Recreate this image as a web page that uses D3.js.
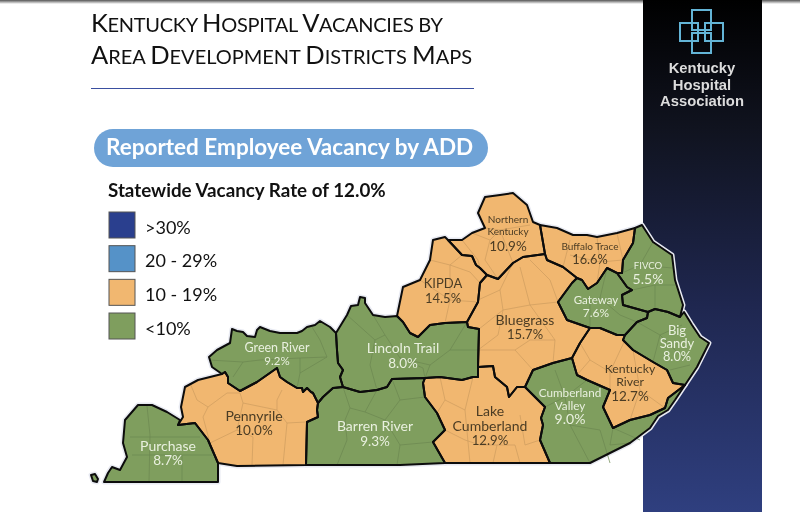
<!DOCTYPE html>
<html>
<head>
<meta charset="utf-8">
<script src="https://cdn.jsdelivr.net/npm/d3@7"></script>
<style>
  html, body { margin: 0; padding: 0; background: #fff; overflow: hidden; }
  text { font-family: Lato, "Open Sans", sans-serif; }
  svg { filter: blur(0.35px); }
</style>
</head>
<body>
<div id="chart"></div>
<script>
// values
const districts = ["Purchase", "Pennyrile", "Green River", "Barren River", "Lincoln Trail", "Lake Cumberland", "KIPDA", "Northern Kentucky", "Bluegrass", "Buffalo Trace", "FIVCO", "Gateway", "Big Sandy", "Kentucky River", "Cumberland Valley"];
const vacancy = [8.7, 10.0, 9.2, 9.3, 8.0, 12.9, 14.5, 10.9, 15.7, 16.6, 5.5, 7.6, 8.0, 12.7, 9.0];
const legendLabels = [">30%", "20 - 29%", "10 - 19%", "<10%"];
const binLimits = [10, 20, 30];
const binColors = ["#7f9e5e", "#f1b770", "#5592c8", "#2a3f8e"];
const titleLines = ["Kentucky Hospital Vacancies by", "Area Development Districts Maps"];

const arcs = {
  pu_out: [[178,425],[180,420],[167,412],[152,405],[138,405],[125,420],[123,443],[127,457],[120,470],[112,467],[108,473],[104,482],[218,482],[218,463]],
  pu_pe: [[218,463],[208,440],[195,423],[178,425]],
  pe_out: [[178,425],[183,417],[181,407],[185,387],[198,380],[222,374]],
  pe_gr: [[222,374],[225,372],[228,377],[228,383],[240,391],[257,382],[277,368],[280,377],[287,382],[297,388],[302,388],[303,392],[307,388],[311,392],[313,393],[318,403]],
  pe_br: [[318,403],[317,410],[318,417],[307,422],[306,465]],
  pe_s: [[306,465],[237,466],[218,463]],
  gr_out: [[222,374],[212,367],[209,357],[217,350],[230,343],[232,329],[237,331],[243,332],[247,336],[255,337],[257,330],[260,327],[270,331],[280,333],[297,333],[302,331],[307,327],[315,325],[320,321],[330,327],[336,333]],
  gr_lt: [[336,333],[337,350],[338,363],[343,370],[340,377],[343,387]],
  gr_br: [[343,387],[333,388],[323,397],[318,403]],
  lt_out: [[336,333],[347,315],[351,306],[358,305],[360,297],[365,298],[365,303],[373,315],[385,317],[397,316]],
  lt_ki: [[397,316],[403,322],[410,333],[418,337],[430,325],[445,323],[467,322]],
  lt_bg: [[467,322],[468,327],[479,329],[478,367]],
  lt_lc: [[478,367],[478,377],[473,377],[462,380],[440,377],[425,378]],
  lt_br: [[425,378],[392,379],[387,387],[377,390],[360,392],[343,387]],
  br_lc: [[425,378],[423,383],[425,397],[437,413],[445,430],[433,442],[445,463]],
  br_s: [[445,463],[400,465],[347,465],[306,465]],
  lc_s: [[445,463],[550,463]],
  lc_cv: [[550,463],[540,440],[543,425],[541,418],[545,407],[525,387]],
  lc_bg: [[525,387],[517,387],[509,397],[507,387],[495,377],[493,366],[478,367]],
  ki_out: [[397,316],[403,287],[420,280],[430,260],[433,240],[445,237],[448,240]],
  ki_nk: [[448,240],[462,255],[472,256],[476,265],[480,268],[487,275]],
  ki_bg: [[487,275],[480,283],[478,302],[467,322]],
  nk_out: [[448,240],[462,240],[472,233],[485,228],[478,213],[485,197],[500,195],[513,193],[527,205],[533,222],[540,225]],
  nk_bt: [[540,225],[545,254]],
  nk_bg: [[545,254],[523,257],[513,263],[498,279],[487,275]],
  bt_out: [[540,225],[557,228],[573,235],[587,235],[597,237],[617,233],[635,228]],
  bt_fi: [[635,228],[633,243],[623,260],[622,273],[617,273]],
  bt_ga: [[617,273],[607,268],[597,283],[588,289],[582,280],[577,278]],
  bt_bg: [[577,278],[563,267],[547,260],[545,254]],
  bg_ga: [[577,278],[572,283],[558,302],[567,320],[590,328]],
  bg_ky: [[590,328],[580,343],[572,358]],
  bg_cv: [[572,358],[553,363],[533,370],[525,387]],
  fi_out: [[635,228],[642,225],[653,242],[672,255],[675,280],[683,305],[680,317]],
  fi_bs: [[680,317],[668,312],[655,309],[648,312]],
  fi_ga: [[648,312],[623,305],[622,295],[632,290],[627,287],[617,273]],
  ga_bs: [[648,312],[647,318],[637,322],[625,335]],
  ga_ky: [[625,335],[617,335],[600,328],[590,328]],
  bs_out: [[680,317],[684,312],[692,325],[700,337],[709,343],[697,367],[685,385]],
  bs_ky: [[685,385],[673,383],[667,370],[653,362],[633,350],[623,340],[625,335]],
  ky_cv: [[685,385],[668,398],[665,408],[650,415],[630,420],[613,428],[603,407],[610,390],[587,380],[577,375],[572,358]],
  cv_out: [[685,385],[675,400],[668,410],[658,416],[650,428],[630,443],[590,463],[550,463]]
};

// each district ring as a chain of arcs, "-" walks the arc backwards
const rings = [
  ["pu_out", "pu_pe"],
  ["pe_out", "pe_gr", "pe_br", "pe_s", "pu_pe"],
  ["gr_out", "gr_lt", "gr_br", "-pe_gr"],
  ["gr_br", "pe_br", "-br_s", "-br_lc", "lt_br"],
  ["lt_out", "lt_ki", "lt_bg", "lt_lc", "lt_br", "-gr_lt"],
  ["br_lc", "lc_s", "lc_cv", "lc_bg", "lt_lc"],
  ["ki_out", "ki_nk", "ki_bg", "-lt_ki"],
  ["nk_out", "nk_bt", "nk_bg", "-ki_nk"],
  ["lt_bg", "-lc_bg", "-bg_cv", "-bg_ky", "-bg_ga", "bt_bg", "nk_bg", "ki_bg"],
  ["bt_out", "bt_fi", "bt_ga", "bt_bg", "-nk_bt"],
  ["fi_out", "fi_bs", "fi_ga", "-bt_fi"],
  ["bg_ga", "-ga_ky", "-ga_bs", "fi_ga", "bt_ga"],
  ["bs_out", "bs_ky", "-ga_bs", "-fi_bs"],
  ["bg_ky", "-ky_cv", "bs_ky", "ga_ky"],
  ["ky_cv", "bg_cv", "-lc_cv", "-cv_out"]
];
const kentuckyBend = [[91,475],[95,474],[98,479],[97,482],[93,481],[91,475]];

// county lines inside each district
const countyLines = [
  [[[147,406],[150,435],[149,482]], [[130,437],[200,437]], [[132,455],[212,455]], [[182,455],[182,482]]],
  [[[190,383],[197,400],[208,407],[203,417],[210,443]], [[208,407],[227,393],[240,393],[243,403],[277,410]], [[282,390],[277,400],[277,410],[287,423],[283,465]], [[210,443],[237,430],[253,437],[252,465]], [[243,403],[237,430]], [[287,423],[306,422]]],
  [[[233,377],[243,362],[260,360],[300,358]], [[312,327],[320,340],[327,357],[300,373],[297,388]], [[300,373],[300,358],[327,357]], [[209,360],[243,362]]],
  [[[343,387],[350,408],[345,420],[347,440],[337,465]], [[350,408],[365,412],[377,390]], [[365,412],[385,420],[400,400],[392,379]], [[385,420],[400,445],[397,465]], [[400,445],[433,442]], [[400,400],[425,397]]],
  [[[373,315],[385,335],[400,358],[423,368],[425,378]], [[347,315],[375,340],[385,335]], [[375,340],[370,365],[377,390]], [[400,358],[430,365],[450,350],[467,322]], [[450,350],[478,350]], [[430,365],[425,378]]],
  [[[440,377],[445,400],[437,413]], [[445,400],[465,410],[473,377]], [[465,410],[470,463]], [[445,430],[465,440],[480,445],[515,445],[520,463]], [[493,463],[497,445]], [[520,415],[525,445],[540,440]]],
  [[[430,260],[450,265],[462,255]], [[450,265],[470,272],[480,283]], [[420,280],[450,300],[478,302]], [[450,265],[450,300],[445,323]]],
  [[[462,240],[478,260],[480,268]], [[472,233],[490,240],[485,260],[498,279]], [[485,228],[500,230],[513,263]], [[500,230],[530,225]], [[490,240],[500,230]]],
  [[[478,300],[500,290],[513,263]], [[500,290],[503,310],[498,335]], [[479,329],[503,310],[530,305],[558,302]], [[520,267],[530,305]], [[530,305],[555,340],[553,363]], [[498,335],[478,350],[515,350],[533,370]], [[515,350],[530,340],[555,340]], [[530,260],[550,280],[558,302]]],
  [[[563,267],[570,240]], [[597,237],[600,262],[597,283]], [[570,255],[600,262],[623,260]], [[617,233],[623,260]]],
  [[[653,242],[640,265],[622,273]], [[640,265],[672,268]], [[632,290],[655,285],[675,285]], [[655,285],[655,309]]],
  [[[590,303],[600,298],[607,268]], [[600,298],[620,315],[637,322]], [[590,303],[590,328]]],
  [[[637,322],[660,335],[653,362]], [[660,335],[682,325]], [[660,335],[685,360]], [[670,370],[690,365]]],
  [[[577,375],[590,360],[610,372],[625,340]], [[590,360],[580,343]], [[610,372],[610,390]], [[633,350],[640,390],[630,420]], [[640,390],[665,408]]],
  [[[545,407],[565,397],[587,380]], [[555,370],[565,397]], [[570,425],[590,463]], [[570,425],[600,430],[610,463]], [[565,397],[570,425]], [[613,428],[610,445],[630,443]], [[613,428],[640,440]]]
];

// label placement, one entry per district
const labelSpots = [
  { x: 168, y: [451, 465], size: [14, 13.5] },
  { x: 254, y: [421, 435], size: [14, 13.5] },
  { x: 277, y: [352, 365], size: [12.5, 11.5] },
  { x: 375, y: [431, 446], size: [14, 13.5] },
  { x: 403, y: [353, 368], size: [14, 13.5] },
  { x: 490, y: [416, 431, 445], size: [14, 14, 13.2] },
  { x: 443, y: [288, 303], size: [13, 13] },
  { x: 508, y: [223, 235, 251], size: [10, 10, 13.5] },
  { x: 525, y: [325, 339], size: [14, 13] },
  { x: 590, y: [250, 264], size: [10, 12.8] },
  { x: 648, y: [269, 284], size: [9.6, 14] },
  { x: 596, y: [304, 317], size: [11.5, 12] },
  { x: 677, y: [335, 348, 361], size: [13, 13, 12.8] },
  { x: 630, y: [373, 386, 401], size: [12.3, 12.3, 13.5] },
  { x: 570, y: [397, 410, 424], size: [11.7, 11.7, 14] }
];
const nameLines = [["Purchase"], ["Pennyrile"], ["Green River"], ["Barren River"], ["Lincoln Trail"], ["Lake", "Cumberland"], ["KIPDA"], ["Northern", "Kentucky"], ["Bluegrass"], ["Buffalo Trace"], ["FIVCO"], ["Gateway"], ["Big", "Sandy"], ["Kentucky", "River"], ["Cumberland", "Valley"]];

const width = 800, height = 512;
const svg = d3.select("#chart").append("svg")
  .attr("width", width)
  .attr("height", height)
  .style("display", "block");

const defs = svg.append("defs");
const grad = defs.append("linearGradient").attr("id", "panelFill").attr("x1", 0).attr("x2", 0).attr("y1", 0).attr("y2", 1);
grad.append("stop").attr("offset", "0%").attr("stop-color", "#000");
grad.append("stop").attr("offset", "25%").attr("stop-color", "#10131f");
grad.append("stop").attr("offset", "60%").attr("stop-color", "#1f2750");
grad.append("stop").attr("offset", "100%").attr("stop-color", "#2f3f7f");
const topShade = defs.append("linearGradient").attr("id", "topShade").attr("x1", 0).attr("x2", 0).attr("y1", 0).attr("y2", 1);
topShade.append("stop").attr("offset", "0%").attr("stop-color", "#555");
topShade.append("stop").attr("offset", "100%").attr("stop-color", "#fff");

svg.append("rect").attr("width", width).attr("height", 4).attr("fill", "url(#topShade)");
svg.append("rect").attr("x", 643).attr("y", 0).attr("width", 119).attr("height", height).attr("fill", "url(#panelFill)");

// title, capitals bigger than the rest as small caps
const title = svg.selectAll("text.title")
  .data(titleLines)
  .enter().append("text")
  .attr("class", "title")
  .attr("x", 91)
  .attr("y", (d, i) => 32 + i * 32)
  .attr("textLength", (d, i) => i === 0 ? 352 : 381)
  .attr("lengthAdjust", "spacing")
  .attr("fill", "#111");
title.selectAll("tspan")
  .data(d => d.split(""))
  .enter().append("tspan")
  .attr("font-size", c => c === c.toUpperCase() && c !== " " ? 25.5 : 20)
  .text(c => c.toUpperCase());
svg.append("line").attr("x1", 91).attr("x2", 474).attr("y1", 88.5).attr("y2", 88.5).attr("stroke", "#3a4fa0").attr("stroke-width", 1.2);

// heading pill
svg.append("rect").attr("x", 94).attr("y", 129).attr("width", 394).attr("height", 38).attr("rx", 19).attr("fill", "#6fa3d7");
svg.append("text").attr("x", 106).attr("y", 155).attr("font-size", 22.5).attr("font-weight", 700).attr("fill", "#fff").text("Reported Employee Vacancy by ADD");
svg.append("text").attr("x", 108).attr("y", 197).attr("font-size", 18.8).attr("font-weight", 700).attr("fill", "#111").text("Statewide Vacancy Rate of 12.0%");

// legend
const legendY = d3.scaleBand().domain(legendLabels).range([212, 346]).paddingInner(0.02).paddingOuter(0);
const color = d3.scaleThreshold().domain(binLimits).range(binColors);
const legend = svg.selectAll("g.legend").data(legendLabels).enter().append("g").attr("class", "legend")
  .attr("transform", d => `translate(109,${legendY(d)})`);
legend.append("rect").attr("width", 26).attr("height", 26)
  .attr("fill", (d, i) => binColors[binColors.length - 1 - i])
  .attr("stroke", "#555").attr("stroke-width", 1);
legend.append("text").attr("x", 36).attr("y", 21.5).attr("font-size", 18).attr("fill", "#111").text(d => d);

// map
const walk = name => name[0] === "-" ? arcs[name.slice(1)].slice().reverse() : arcs[name];
const ringCoords = chain => {
  const pts = chain.flatMap(walk);
  return pts.concat([pts[0]]);
};
const features = districts.map((name, i) => ({
  type: "Feature",
  properties: { name, value: vacancy[i] },
  geometry: name === "Purchase"
    ? { type: "MultiPolygon", coordinates: [[ringCoords(rings[i])], [kentuckyBend]] }
    : { type: "Polygon", coordinates: [ringCoords(rings[i])] }
}));
const projection = d3.geoIdentity();
const path = d3.geoPath(projection);
const map = svg.append("g");

// pale halo round the state, it shows against the dark panel
map.append("g").selectAll("path").data(features).enter().append("path")
  .attr("d", path).attr("fill", "none").attr("stroke", "#e8eaf2").attr("stroke-width", 5).attr("stroke-linejoin", "round");

map.append("g").selectAll("path").data(features).enter().append("path")
  .attr("d", path).attr("fill", d => color(d.properties.value)).attr("stroke", "none");

map.append("g").selectAll("path").data(features).enter().append("path")
  .attr("d", (d, i) => path({ type: "MultiLineString", coordinates: countyLines[i] }))
  .attr("fill", "none")
  .attr("stroke", d => d3.color(color(d.properties.value)).darker(0.45))
  .attr("stroke-width", 0.7);

map.append("g").selectAll("path").data(features).enter().append("path")
  .attr("d", path).attr("fill", "none").attr("stroke", "#0c0c0c").attr("stroke-width", 2).attr("stroke-linejoin", "round");

// labels
const labelGroups = map.append("g").selectAll("g").data(features).enter().append("g")
  .attr("fill", d => d.properties.value < 10 ? "#e9f0df" : "#4b3c24");
labelGroups.selectAll("text")
  .data((d, i) => nameLines[i].concat([d.properties.value.toFixed(1) + "%"]).map((t, j) => ({ t, x: labelSpots[i].x, y: labelSpots[i].y[j], size: labelSpots[i].size[j] })))
  .enter().append("text")
  .attr("x", d => d.x).attr("y", d => d.y)
  .attr("text-anchor", "middle")
  .attr("font-size", d => d.size)
  .text(d => d.t);

// logo
const logoBoxes = [[692, 10, 19, 20], [680, 23, 18, 18], [705, 23, 18, 18], [692, 33, 19, 20]];
svg.append("g").selectAll("rect").data(logoBoxes).enter().append("rect")
  .attr("x", d => d[0]).attr("y", d => d[1]).attr("width", d => d[2]).attr("height", d => d[3])
  .attr("fill", "none").attr("stroke", "#63b4d6").attr("stroke-width", 2);
svg.append("g").selectAll("text").data(["Kentucky", "Hospital", "Association"]).enter().append("text")
  .attr("x", 702).attr("y", (d, i) => 73 + i * 16.5)
  .attr("text-anchor", "middle")
  .style("font-family", "'Liberation Sans', sans-serif")
  .attr("font-size", 14.8).attr("font-weight", 700).attr("fill", "#dcdcdc")
  .text(d => d);
</script>
</body>
</html>
